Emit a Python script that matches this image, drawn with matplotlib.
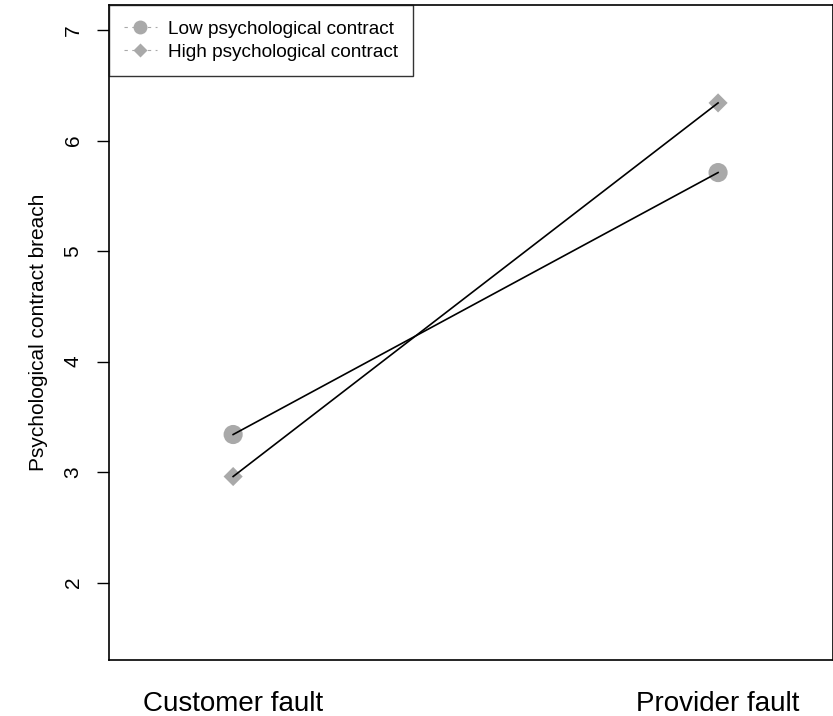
import matplotlib
matplotlib.use('Agg')
import matplotlib.pyplot as plt
from matplotlib.lines import Line2D

plt.rcParams['font.family'] = ['Liberation Sans', 'DejaVu Sans']

# ================== DATA ==================
conditions = ['Customer fault', 'Provider fault']
x_pos = [1, 2]
low_contract = [3.34, 5.71]
high_contract = [2.96, 6.34]
y_ticks = [2, 3, 4, 5, 6, 7]

GREY = '#a9a9a9'
W, H = 833, 716
AX_L, AX_T, AX_B = 109, 5, 660

fig = plt.figure(figsize=(W / 100, H / 100), dpi=100)
ax = fig.add_axes([AX_L / W, (H - AX_B) / H, (W - AX_L) / W, (AX_B - AX_T) / H])

# black connecting lines, grey markers underneath
ax.plot(x_pos, low_contract, color='black', linewidth=1.2, zorder=2)
ax.plot(x_pos, high_contract, color='black', linewidth=1.2, zorder=2)
ax.scatter(x_pos, low_contract, marker='o', s=190, color=GREY, edgecolors='none', zorder=1)
ax.scatter(x_pos, high_contract, marker='D', s=95, color=GREY, edgecolors='none', zorder=1)

ax.set_xlim(0.744, 2.237)
ax.set_ylim(1.30, 7.226)

ax.set_yticks(y_ticks)
ax.set_yticklabels([str(t) for t in y_ticks], rotation=90, va='center', fontsize=15)
ax.tick_params(axis='y', length=9, width=1, pad=10)
ax.set_xticks([])

# condition names under the frame
for xp, name in zip(x_pos, conditions):
    ax.text(xp, -(711 - AX_B) / (AX_B - AX_T), name, transform=ax.get_xaxis_transform(),
            ha='center', va='baseline', fontsize=20)

ax.set_ylabel('Psychological contract breach', fontsize=15, labelpad=11)

for sp in ax.spines.values():
    sp.set_linewidth(1.2)

handles = [
    Line2D([], [], color=GREY, linestyle=(0, (3, 4)), linewidth=0.8, marker='o', markersize=10,
           markeredgecolor='none', markerfacecolor=GREY),
    Line2D([], [], color=GREY, linestyle=(0, (3, 4)), linewidth=0.8, marker='D', markersize=7,
           markeredgecolor='none', markerfacecolor=GREY),
]
leg = ax.legend(handles, ['Low psychological contract', 'High psychological contract'],
                loc='upper left', bbox_to_anchor=(0, 1), borderaxespad=0, fontsize=13.7,
                frameon=True, fancybox=False, handlelength=1.7, handletextpad=0.6,
                labelspacing=0.3, borderpad=0.8)
leg.get_frame().set_edgecolor('black')
leg.get_frame().set_linewidth(1.0)

fig.savefig('out.png', dpi=100)
